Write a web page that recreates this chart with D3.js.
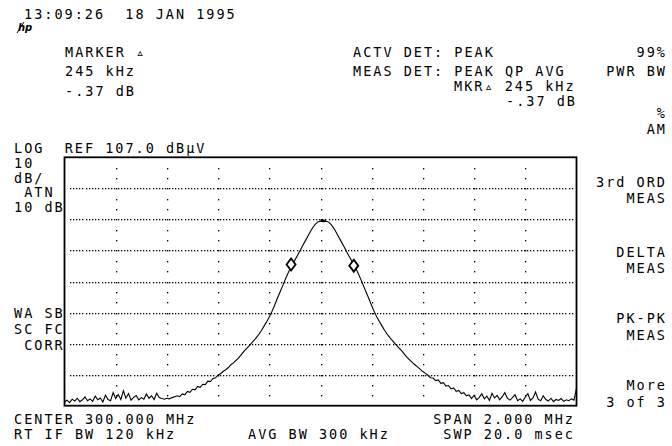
<!DOCTYPE html>
<html>
<head>
<meta charset="utf-8">
<script src="https://cdn.jsdelivr.net/npm/d3@7"></script>
<style>
  html, body { margin: 0; padding: 0; background: #fff; }
  svg text { font-family: "DejaVu Sans Mono", monospace; font-size: 13.5px; fill: #000; white-space: pre; }
</style>
</head>
<body>
<svg id="chart" width="672" height="446"></svg>
<script>
const refLevel = 107;          // dBµV, top of graticule
const dbPerDiv = 10;
const numDivY = 8;
const centerMHz = 300.0;
const spanMHz = 2.0;
const xTickCount = 10;          // vertical graticule divisions

// trace sweep sampling
const traceStartMHz = 299.0;
const traceStepMHz = 0.01;
// trace levels (dBµV), one per sweep point
const traceLevels = [
  28.2, 28.8, 28.0, 29.1, 28.5, 29.4, 28.3, 28.9, 29.8, 28.6,
  29.2, 28.4, 30.1, 28.9, 29.5, 28.2, 30.4, 29.0, 28.6, 31.2,
  29.3, 30.6, 29.0, 31.8, 29.4, 30.9, 28.8, 29.7, 30.3, 28.9,
  29.6, 29.1, 30.8, 29.4, 30.2, 29.0, 31.0, 29.6, 29.3, 29.1,
  29.4, 29.2, 29.6, 29.9,
  30.2, 29.9, 30.8, 30.5, 31.6, 31.3, 32.3, 32.1, 33.2, 32.9,
  33.9, 33.8, 34.9, 34.8, 35.8, 36.0, 36.9, 37.3, 38.1, 38.6,
  39.3, 40.2, 40.8, 41.6, 42.4, 43.4, 44.4, 45.3, 46.2, 47.1,
  48.0, 49.0, 50.1, 51.3, 52.7, 54.1, 55.6, 57.3, 59.2, 61.3,
  63.2, 65.2, 67.2, 69.1, 70.9, 72.4, 73.9, 75.4, 76.9, 78.5,
  80.0, 81.5, 83.0, 84.4, 85.5, 86.2, 86.5,
  86.5,
  86.5, 86.2, 85.5, 84.4, 83.0, 81.5, 80.0, 78.5, 76.9, 75.4,
  73.9, 72.4, 70.9, 69.1, 67.2, 65.2, 63.2, 61.3, 59.2, 57.3,
  55.6, 54.1, 52.7, 51.3, 50.1, 49.0, 48.0, 47.1, 46.2, 45.3,
  44.4, 43.4, 42.4, 41.6, 40.8, 40.1, 39.4, 38.7, 38.0, 37.4,
  36.8, 36.0, 35.9, 35.1, 35.3, 34.2, 34.4, 33.3, 33.5, 32.4,
  32.7, 31.6, 31.9, 30.9, 31.2, 30.2, 30.5,
  29.3, 30.4, 28.9, 29.7, 30.8, 29.2, 30.1, 28.7, 31.0, 29.5,
  30.3, 28.9, 29.9, 31.2, 29.4, 28.8, 29.6, 30.5, 28.6, 29.2,
  28.4, 29.8, 30.9, 28.7, 29.5, 31.4, 29.1, 28.6, 30.2, 29.0,
  28.5, 29.4, 28.3, 29.0, 28.7, 29.3, 28.4, 28.9, 28.6, 29.2,
  28.8, 32.6
];
// delta markers (MHz, dBµV)
const markerFreqs = [299.885, 300.130];
const markerLevels = [72.5, 72.1];

// ---- Layout ----
const svg = d3.select("#chart");
const plot = { left: 64.5, right: 576.5, top: 157.3, bottom: 405.7 };

const x = d3.scaleLinear()
  .domain([centerMHz - spanMHz / 2, centerMHz + spanMHz / 2])
  .range([plot.left, plot.right]);
const y = d3.scaleLinear()
  .domain([refLevel - dbPerDiv * numDivY, refLevel])
  .range([plot.bottom, plot.top]);

// graticule
const xTicks = d3.range(1, xTickCount).map(k => x.domain()[0] + k * spanMHz / xTickCount);
const yTicks = d3.range(1, numDivY).map(k => refLevel - k * dbPerDiv);
const grid = svg.append("g").attr("fill", "#000");
const divX = (plot.right - plot.left) / xTickCount;
const divY = (plot.bottom - plot.top) / numDivY;
// horizontal dotted lines
yTicks.forEach(v => {
  const yy = Math.round(y(v));
  for (let px = plot.left + 5; px < plot.right - 3; px += divX / 16) {
    grid.append("rect").attr("x", Math.round(px)).attr("y", yy).attr("width", 1.3).attr("height", 1.3);
  }
});
// vertical dotted lines
xTicks.forEach(v => {
  const xx = Math.round(x(v));
  for (let k = 1; k < numDivY * 3; k++) {
    const py = plot.top + k * divY / 3;
    grid.append("rect").attr("x", xx).attr("y", Math.round(py)).attr("width", 1.3).attr("height", 1.4);
  }
});

// frame
svg.append("rect")
  .attr("x", plot.left).attr("y", plot.top)
  .attr("width", plot.right - plot.left).attr("height", plot.bottom - plot.top)
  .attr("fill", "none").attr("stroke", "#000").attr("stroke-width", 1.8);

// trace
const pts = traceLevels.map((v, i) => [traceStartMHz + i * traceStepMHz, v]);
svg.append("path")
  .datum(pts)
  .attr("fill", "none").attr("stroke", "#000").attr("stroke-width", 1.1)
  .attr("d", d3.line().x(d => x(d[0])).y(d => y(d[1])));
// peak emphasis (flat top drawn heavier)
const maxLev = d3.max(traceLevels);
const peakPts = pts.filter(d => d[1] >= maxLev);
svg.append("path")
  .datum(peakPts)
  .attr("fill", "none").attr("stroke", "#000").attr("stroke-width", 2.4)
  .attr("d", d3.line().x(d => x(d[0])).y(d => y(d[1])));

// markers (diamonds)
markerFreqs.forEach((f, i) => {
  const cx = x(f), cy = y(markerLevels[i]);
  svg.append("path")
    .attr("d", `M${cx},${cy - 6} L${cx + 4.5},${cy} L${cx},${cy + 6} L${cx - 4.5},${cy} Z`)
    .attr("fill", "#fff").attr("stroke", "#000").attr("stroke-width", 1.8);
});

// ---- Annotation text ----
const LS = 2.0;
function txt(s, tx, ty, anchor) {
  anchor = anchor || "start";
  svg.append("text")
    .attr("x", anchor === "end" ? tx + LS : tx)
    .attr("y", ty)
    .attr("text-anchor", anchor)
    .style("letter-spacing", LS + "px")
    .text(s);
}
txt("13:09:26  18 JAN 1995", 24, 19);
// hp logo
const logo = svg.append("g").attr("transform", "translate(18,31)");
logo.append("text").attr("x", 0).attr("y", 0)
  .style("font-size", "10px").style("font-style", "italic").style("font-weight", "bold")
  .style("font-family", "DejaVu Sans, sans-serif").text("hp");
logo.append("line").attr("x1", -1).attr("y1", 2).attr("x2", 6).attr("y2", -9)
  .attr("stroke", "#000").attr("stroke-width", 1);

txt("MARKER ▵", 65, 57);
txt("245 kHz", 65, 76);
txt("-.37 dB", 65, 96);
txt("ACTV DET: PEAK", 353, 57);
txt("MEAS DET: PEAK QP AVG", 353, 76);
txt("MKR▵ 245 kHz", 454, 91);
txt("-.37 dB", 506, 106);

const RX = 665;
txt("99%", RX, 57, "end");
txt("PWR BW", RX, 76, "end");
txt("%", RX, 118, "end");
txt("AM", RX, 134, "end");
txt("3rd ORD", RX, 187, "end");
txt("MEAS", RX, 203, "end");
txt("DELTA", RX, 257, "end");
txt("MEAS", RX, 273, "end");
txt("PK-PK", RX, 323, "end");
txt("MEAS", RX, 340, "end");
txt("More", RX, 390, "end");
txt("3 of 3", RX, 406.5, "end");

txt("LOG  REF " + refLevel.toFixed(1) + " dBµV", 14, 153);
txt(String(dbPerDiv), 14, 168);
txt("dB/", 14, 182.5);
txt(" ATN", 14, 197);
txt("10 dB", 14, 211.5);
txt("WA SB", 14, 317.5);
txt("SC FC", 14, 333.5);
txt(" CORR", 14, 349.5);

txt("CENTER " + centerMHz.toFixed(3) + " MHz", 14, 423.5);
txt("SPAN " + spanMHz.toFixed(3) + " MHz", 573, 423.5, "end");
txt("RT", 14, 439);
txt("IF BW 120 kHz", 44.5, 439);
txt("AVG BW 300 kHz", 248, 439);
txt("SWP 20.0 msec", 573, 439, "end");
</script>
</body>
</html>
